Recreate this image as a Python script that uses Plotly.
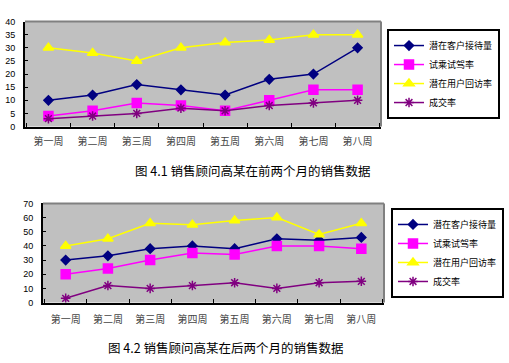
import plotly.graph_objects as go

weeks = ["第一周", "第二周", "第三周", "第四周", "第五周", "第六周", "第七周", "第八周"]
series_names = ["潜在客户接待量", "试乘试驾率", "潜在用户回访率", "成交率"]

# Chart 1: first two months
c1_reception = [10, 12, 16, 14, 12, 18, 20, 30]
c1_testdrive = [4, 6, 9, 8, 6, 10, 14, 14]
c1_revisit = [30, 28, 25, 30, 32, 33, 35, 35]
c1_deal = [3, 4, 5, 7, 6, 8, 9, 10]

# Chart 2: last two months
c2_reception = [30, 33, 38, 40, 38, 45, 44, 46]
c2_testdrive = [20, 24, 30, 35, 34, 40, 40, 38]
c2_revisit = [40, 45, 56, 55, 58, 60, 48, 56]
c2_deal = [3, 12, 10, 12, 14, 10, 14, 15]

caption1 = "图 4.1 销售顾问高某在前两个月的销售数据"
caption2 = "图 4.2 销售顾问高某在后两个月的销售数据"

W, H = 509, 363
colors = ["#000080", "#FF00FF", "#FFFF00", "#800080"]
symbols = ["diamond", "square", "triangle-up", "asterisk-open"]
msizes = [7, 9, 9, 8]

CJK = "Noto Sans CJK SC"

def px(x):
    return x / W

def py(y):
    return 1 - y / H

fig = go.Figure()

for i, (vals, name) in enumerate(zip([c1_reception, c1_testdrive, c1_revisit, c1_deal], series_names)):
    fig.add_trace(go.Scatter(
        x=weeks, y=vals, name=name, mode="lines+markers",
        line=dict(color=colors[i], width=1.5),
        marker=dict(symbol=symbols[i], size=msizes[i], color=colors[i],
                    line=dict(color=colors[i], width=1.5)),
        xaxis="x", yaxis="y", legend="legend"))

for i, (vals, name) in enumerate(zip([c2_reception, c2_testdrive, c2_revisit, c2_deal], series_names)):
    fig.add_trace(go.Scatter(
        x=weeks, y=vals, name=name, mode="lines+markers",
        line=dict(color=colors[i], width=1.5),
        marker=dict(symbol=symbols[i], size=msizes[i], color=colors[i],
                    line=dict(color=colors[i], width=1.5)),
        xaxis="x2", yaxis="y2", legend="legend2"))

# plot areas in pixels
p1 = dict(l=25, r=381, t=17, b=125)
p2 = dict(l=43, r=384, t=204, b=306)

xcommon = dict(type="category", showgrid=False, showline=True, linecolor="black", linewidth=2,
               ticks="inside", tickson="boundaries", ticklen=4, tickcolor="black", tickwidth=1,
               tickfont=dict(family=CJK, size=10, color="#444"), zeroline=False, fixedrange=True)
ycommon = dict(showgrid=False, showline=True, linecolor="black", linewidth=2,
               ticks="inside", ticklen=3, tickcolor="black", tickwidth=1,
               tickfont=dict(family="Liberation Sans", size=9, color="black"), zeroline=False,
               fixedrange=True, ticklabelstandoff=6)

legend_common = dict(xanchor="left", yanchor="middle",
                     bgcolor="white", bordercolor="black", borderwidth=2,
                     font=dict(family=CJK, size=9, color="black"), tracegroupgap=0,
                     itemwidth=30)

fig.update_layout(
    width=W, height=H,
    margin=dict(l=0, r=0, t=0, b=0),
    paper_bgcolor="white", plot_bgcolor="#C0C0C0",
    xaxis=dict(domain=[px(p1["l"]), px(p1["r"])], anchor="y", ticklabelstandoff=4, **xcommon),
    yaxis=dict(domain=[py(p1["b"]), py(p1["t"])], anchor="x", range=[0, 40], dtick=5, **ycommon),
    xaxis2=dict(domain=[px(p2["l"]), px(p2["r"])], anchor="y2", ticklabelstandoff=6, **xcommon),
    yaxis2=dict(domain=[py(p2["b"]), py(p2["t"])], anchor="x2", range=[0, 70], dtick=10, **ycommon),
    legend=dict(x=px(387), y=py(71), **legend_common),
    legend2=dict(x=px(391), y=py(255), **legend_common),
    showlegend=True,
)

# grey top/right borders
for p in (p1, p2):
    fig.add_shape(type="line", xref="paper", yref="paper",
                  x0=px(p["l"]), x1=px(p["r"]), y0=py(p["t"]), y1=py(p["t"]),
                  line=dict(color="#808080", width=2))
    fig.add_shape(type="line", xref="paper", yref="paper",
                  x0=px(p["r"]), x1=px(p["r"]), y0=py(p["t"]), y1=py(p["b"]),
                  line=dict(color="#808080", width=2))

fig.add_annotation(text=caption1, xref="paper", yref="paper", x=px(252), y=py(170),
                   xanchor="center", yanchor="middle",
                   showarrow=False, font=dict(family=CJK, size=12.5, color="black"))
fig.add_annotation(text=caption2, xref="paper", yref="paper", x=px(225), y=py(352),
                   xanchor="center", yanchor="middle",
                   showarrow=False, font=dict(family=CJK, size=12.5, color="black"))

fig.write_html("out.html", config={"displayModeBar": False},
               post_script="document.body.style.margin='0';")
